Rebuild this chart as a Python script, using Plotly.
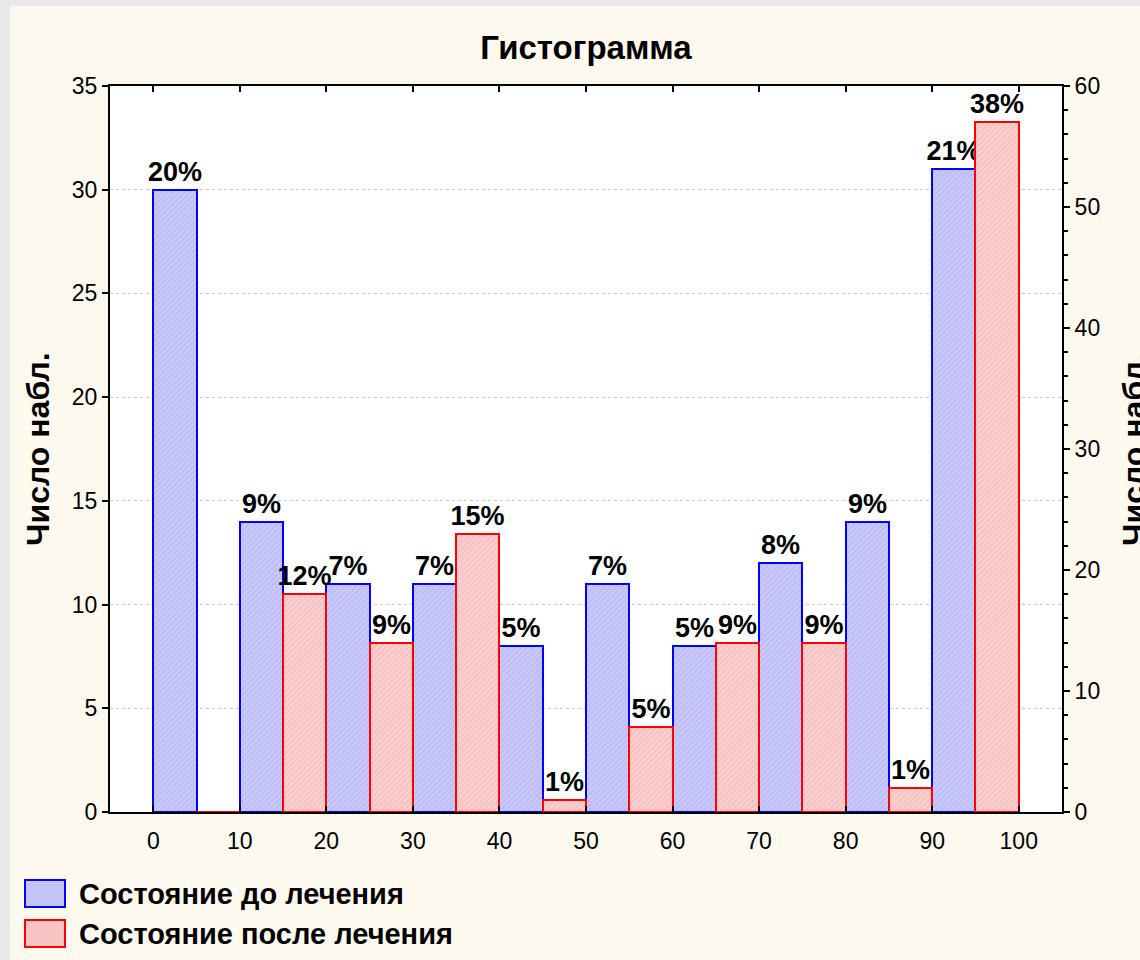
"""Histogram before / after treatment — STATISTICA style."""
import plotly.graph_objects as go

FONT = "Liberation Sans, Arial, sans-serif"
BLUE = "#0000ff"
RED = "#ff0000"
CREAM = "#fdf9ee"

# bin starts (each bin 10 wide: left half = before, right half = after)
bins = [0, 10, 20, 30, 40, 50, 60, 70, 80, 90]
before_counts = [30, 14, 11, 11, 8, 11, 8, 12, 14, 31]
after_counts = [0, 18, 14, 23, 1, 7, 14, 14, 2, 57]
before_pct = ["20%", "9%", "7%", "7%", "5%", "7%", "5%", "8%", "9%", "21%"]
after_pct = ["", "12%", "9%", "15%", "1%", "5%", "9%", "9%", "1%", "38%"]
legend_names = ["Состояние до лечения", "Состояние после лечения"]

W, H = 1140, 960
L, R, T, B = 110, 78, 86, 148
PW, PH = W - L - R, H - T - B


def px(x):
    return (x - L) / PW


def py(y):
    return (H - B - y) / PH


fig = go.Figure()
fig.add_trace(go.Bar(
    x=[b + 2.5 for b in bins], y=before_counts, width=5,
    name=legend_names[0], text=before_pct, textposition="outside",
    constraintext="none", cliponaxis=False,
    textfont=dict(family=FONT, size=27, color="black", weight="bold"),
    marker=dict(color="#c4c4f6", line=dict(color=BLUE, width=2),
                pattern=dict(shape="/", size=4, solidity=0.35,
                             fgcolor="#a4a4f0", bgcolor="#cacaf8")),
    showlegend=False,
))
fig.add_trace(go.Bar(
    x=[b + 7.5 for b in bins], y=after_counts, width=5, yaxis="y2",
    name=legend_names[1], text=after_pct, textposition="outside",
    constraintext="none", cliponaxis=False,
    textfont=dict(family=FONT, size=27, color="black", weight="bold"),
    marker=dict(color="#f8c4c4", line=dict(color=RED, width=2),
                pattern=dict(shape="/", size=4, solidity=0.35,
                             fgcolor="#f0a4a4", bgcolor="#fbd0d0")),
    showlegend=False,
))

fig.update_layout(
    width=W, height=H,
    margin=dict(l=L, r=R, t=T, b=B),
    paper_bgcolor=CREAM, plot_bgcolor="white",
    barmode="overlay", bargap=0,
    font=dict(family=FONT, size=23, color="black"),
    title=dict(text="<b>Гистограмма</b>", x=0.5, xref="paper",
               y=1 - 47 / H, yanchor="middle", xanchor="center",
               font=dict(family=FONT, size=33, color="black")),
    xaxis=dict(range=[-5, 105], tickvals=bins + [100], showgrid=False,
               zeroline=False, showline=True, linecolor="black", linewidth=2,
               mirror="ticks", ticks="inside", ticklen=6, tickwidth=1.5,
               tickcolor="black", tickfont=dict(size=23), ticklabelstandoff=7),
    yaxis=dict(range=[0, 35], dtick=5, showgrid=True, gridcolor="#c8c8c8",
               griddash="dot", gridwidth=1, zeroline=False, showline=True,
               linecolor="black", linewidth=2, ticks="outside", ticklen=6,
               tickwidth=1.5, tickcolor="black", tickfont=dict(size=23)),
    yaxis2=dict(range=[0, 60], dtick=10, overlaying="y", side="right",
                showgrid=False, zeroline=False, showline=True,
                linecolor="black", linewidth=2, ticks="outside", ticklen=6,
                tickwidth=1.5, tickcolor="black", tickfont=dict(size=23),
                minor=dict(dtick=2, ticks="outside", ticklen=4,
                           tickwidth=1.5, tickcolor="black")),
)

# axis titles (the right one runs off the edge, as in the original)
for xpos in (px(38), px(1134)):
    fig.add_annotation(text="<b>Число набл.</b>", xref="paper", yref="paper",
                       x=xpos, y=0.5, textangle=-90, showarrow=False,
                       xanchor="center", yanchor="middle",
                       font=dict(family=FONT, size=32, color="black"))

# gray frame strips of the window
fig.add_shape(type="rect", xref="paper", yref="paper", x0=px(-20), x1=px(10),
              y0=py(H + 20), y1=py(-20), fillcolor="#e8e8e8", line_width=0)
fig.add_shape(type="rect", xref="paper", yref="paper", x0=px(-20), x1=px(W + 20),
              y0=py(6), y1=py(-20), fillcolor="#e8e8e8", line_width=0)

# legend boxes
legend_style = [("#c4c4f6", BLUE), ("#f8c4c4", RED)]
for i, (name, (fill, edge)) in enumerate(zip(legend_names, legend_style)):
    top = 880 + 40 * i
    fig.add_shape(type="rect", xref="paper", yref="paper",
                  x0=px(25), x1=px(65), y0=py(top + 27), y1=py(top),
                  fillcolor=fill, line=dict(color=edge, width=2))
    fig.add_annotation(text=f"<b>{name}</b>", xref="paper", yref="paper",
                       x=px(77), y=py(top + 14), xanchor="left", yanchor="middle",
                       showarrow=False,
                       font=dict(family=FONT, size=29, color="black"))

fig.write_html("out.html", config={"displayModeBar": False},
               post_script="document.body.style.margin='0';"
                           "document.body.style.overflow='hidden';")
